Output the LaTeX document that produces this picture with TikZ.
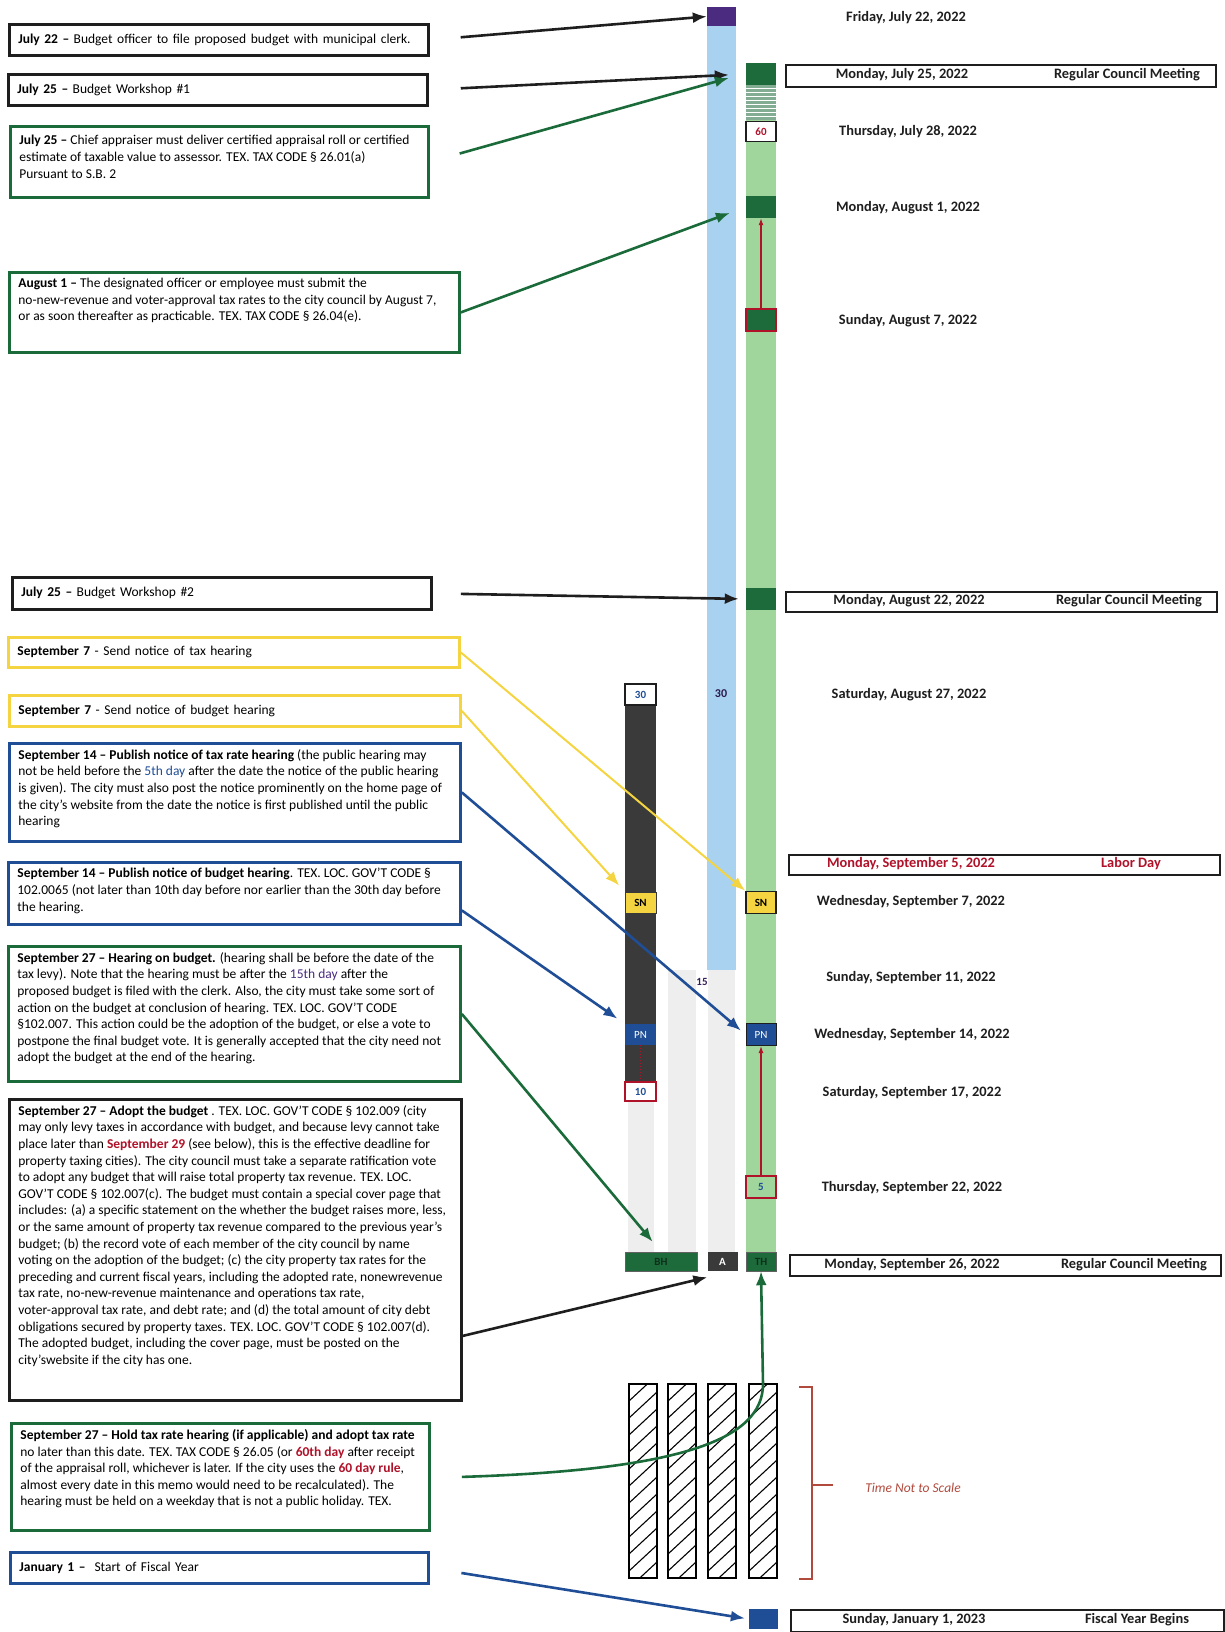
\documentclass[tikz,border=0pt]{standalone}
\usepackage{fontspec}
\setmainfont{Carlito}
\usetikzlibrary{arrows.meta,positioning,calc}
\definecolor{ink}{HTML}{1E1E1E}
\definecolor{mgreen}{HTML}{1B6B3A}
\definecolor{myellow}{HTML}{F4D440}
\definecolor{mblue}{HTML}{1F4E96}
\definecolor{mred}{HTML}{B0122A}
\definecolor{colblue}{HTML}{A9D1F0}
\definecolor{colgreen}{HTML}{A0D69B}
\definecolor{colgray}{HTML}{3A3A3A}
\definecolor{palegray}{HTML}{EEEEEE}
\definecolor{mpurple}{HTML}{4A2B80}
\definecolor{mkgreen}{HTML}{1D6A3B}
\definecolor{notscale}{HTML}{B04A3C}
\newcommand{\memofont}{\fontsize{13.5}{16.6}\selectfont}
\newcommand{\datefont}{\fontsize{14.4}{16}\selectfont\bfseries}
\newcommand{\cellfont}{\fontsize{11}{12}\selectfont\bfseries}
\newcommand{\memotxt}[3]{\parbox[c][#2][t]{#1}{#3}}
\tikzset{
  >={Latex[length=14pt,width=11pt]},
  memo/.style={draw=ink,line width=2.8pt,fill=white,anchor=north west,inner xsep=9pt,inner ysep=6pt,align=left,font=\memofont},
  gmemo/.style={memo,draw=mgreen},
  ymemo/.style={memo,draw=myellow},
  bmemo/.style={memo,draw=mblue},
  datebox/.style={draw=ink,line width=2.4pt,fill=white,anchor=north west,inner sep=0pt},
  date/.style={font=\datefont,inner sep=0pt,text=ink},
  cell/.style={minimum width=30pt,minimum height=22pt,inner sep=0pt,font=\cellfont},
  arr/.style={->,line width=2.6pt,draw=ink},
  garr/.style={arr,draw=mgreen},
  yarr/.style={arr,draw=myellow,line width=2pt},
  barr/.style={arr,draw=mblue},
  rarr/.style={-{Latex[length=7pt,width=5pt]},draw=mred,line width=1.2pt},
}
\begin{document}
\begin{tikzpicture}[x=1pt,y=-1pt]
\useasboundingbox (0,0) rectangle (1225,1632);
% timeline columns
\fill[colblue] (707,26) rectangle (736,970);
\fill[colgreen] (746,64) rectangle (776,1271);
\fill[colgray] (625,705) rectangle (656,1082);
\fill[palegray] (628,1101) rectangle (654,1252);
\fill[palegray] (668,970) rectangle (696,1252);
\fill[palegray] (708,970) rectangle (735,1252);
\fill[mkgreen!55] (746,85) rectangle (776,120);
\foreach \yy in {88,92,...,118} \draw[white,line width=0.6pt] (746,\yy) -- (776,\yy);

% left notes
\node[memo,text width=401pt,minimum height=31pt] (prop) at (8,23) {\textbf{July 22 --} Budget officer to file proposed budget with municipal clerk.};
\node[memo,text width=401pt,minimum height=31pt] (ws1) at (7,73) {\textbf{July 25 --} Budget Workshop \#1};
\node[gmemo] (appr) at (9,125) {\memotxt{400pt}{59pt}{\vspace{3pt}\textbf{July 25 --} Chief appraiser must deliver certified appraisal roll or certified\\ estimate of taxable value to assessor. TEX. TAX CODE § 26.01(a)\\ Pursuant to S.B. 2}};
\node[gmemo] (rates) at (8,271) {\memotxt{432pt}{68pt}{\textbf{August 1 --} The designated officer or employee must submit the\\ no-new-revenue and voter-approval tax rates to the city council by August 7,\\ or as soon thereafter as practicable. TEX. TAX CODE § 26.04(e).}};
\node[memo,text width=401pt,minimum height=32pt] (ws2) at (11,576) {\textbf{July 25 --} Budget Workshop \#2};
\node[ymemo,text width=433pt,minimum height=30pt] (snTax) at (7,636) {\textbf{September 7} - Send notice of tax hearing};
\node[ymemo,text width=433pt,minimum height=31pt] (snBud) at (8,694) {\textbf{September 7} - Send notice of budget hearing};
\node[bmemo] (pnTax) at (8,742) {\memotxt{433pt}{86pt}{\textbf{September 14 -- Publish notice of tax rate hearing} (the public hearing may\\ not be held before the {\color{mblue}5th day} after the date the notice of the public hearing\\ is given). The city must also post the notice prominently on the home page of\\ the city's website from the date the notice is first published until the public\\ hearing}};
\node[bmemo] (pnBud) at (7,861) {\memotxt{434pt}{50pt}{\textbf{September 14 -- Publish notice of budget hearing}. TEX. LOC. GOV'T CODE §\\ 102.0065 (not later than 10th day before nor earlier than the 30th day before\\ the hearing.}};
\node[gmemo] (hear) at (7,945) {\memotxt{434pt}{123pt}{\textbf{September 27 -- Hearing on budget.} (hearing shall be before the date of the\\ tax levy). Note that the hearing must be after the {\color{mpurple}15th day} after the\\ proposed budget is filed with the clerk. Also, the city must take some sort of\\ action on the budget at conclusion of hearing. TEX. LOC. GOV'T CODE\\ §102.007. This action could be the adoption of the budget, or else a vote to\\ postpone the final budget vote. It is generally accepted that the city need not\\ adopt the budget at the end of the hearing.}};
\node[memo] (adoptm) at (8,1098) {\memotxt{434pt}{289pt}{\textbf{September 27 -- Adopt the budget} . TEX. LOC. GOV'T CODE § 102.009 (city\\ may only levy taxes in accordance with budget, and because levy cannot take\\ place later than {\color{mred}\bfseries September 29} (see below), this is the effective deadline for\\ property taxing cities). The city council must take a separate ratification vote\\ to adopt any budget that will raise total property tax revenue. TEX. LOC.\\ GOV'T CODE § 102.007(c). The budget must contain a special cover page that\\ includes: (a) a specific statement on the whether the budget raises more, less,\\ or the same amount of property tax revenue compared to the previous year's\\ budget; (b) the record vote of each member of the city council by name\\ voting on the adoption of the budget; (c) the city property tax rates for the\\ preceding and current fiscal years, including the adopted rate, nonewrevenue\\ tax rate, no-new-revenue maintenance and operations tax rate,\\ voter-approval tax rate, and debt rate; and (d) the total amount of city debt\\ obligations secured by property taxes. TEX. LOC. GOV'T CODE § 102.007(d).\\ The adopted budget, including the cover page, must be posted on the\\ city'swebsite if the city has one.}};
\node[gmemo] (taxr) at (10,1422) {\memotxt{400pt}{95pt}{\textbf{September 27 -- Hold tax rate hearing (if applicable) and adopt tax rate}\\ no later than this date. TEX. TAX CODE § 26.05 (or {\color{mred}\bfseries 60th day} after receipt\\ of the appraisal roll, whichever is later. If the city uses the {\color{mred}\bfseries 60 day rule},\\ almost every date in this memo would need to be recalculated). The\\ hearing must be held on a weekday that is not a public holiday. TEX.}};
\node[bmemo,text width=400pt,minimum height=31pt] (fyear) at (9,1551) {\textbf{January 1 --} \ Start of Fiscal Year};

% markers on the columns
\node[cell,fill=mpurple,minimum width=29pt,minimum height=19pt] (jul22) at (721.5,16.5) {};
\node[cell,fill=mkgreen] (jul25) at (761,74) {};
\node[cell,fill=white,draw=ink,line width=1.6pt,text=mred,minimum height=20pt] (d60) at (761,131.5) {60};
\node[cell,fill=mkgreen] (aug1) at (761,207) {};
\node[cell,fill=mkgreen,draw=mred,line width=1.6pt] (aug7) at (761,320) {};
\node[cell,fill=mkgreen] (aug22) at (761,599) {};
\node[cell,fill=myellow,draw=ink,line width=1.6pt] (snT) at (761,902.5) {SN};
\node[cell,fill=mblue,draw=ink,line width=1pt,text=white,font=\fontsize{11}{12}\selectfont] (pnT) at (761,1034.5) {PN};
\node[cell,fill=colgreen,draw=mred,line width=1.6pt,text=mblue] (d5) at (761,1187) {5};
\node[cell,fill=mkgreen,draw=ink!70,minimum height=19pt,text=black!55!mkgreen] (th) at (761,1261.5) {TH};
\node[cell,fill=mblue,minimum width=29pt,minimum height=20pt] (fy) at (763.5,1619) {};
\node[cell,fill=white,draw=ink,line width=1.6pt,text=mblue,minimum width=31pt,minimum height=21pt] (d30) at (640.5,694.5) {30};
\node[cell,fill=myellow,draw=colgray,line width=1pt,minimum width=31pt,minimum height=21pt] (snB) at (640.5,902.5) {SN};
\node[cell,fill=mblue,text=white,minimum width=31pt,minimum height=21pt,font=\fontsize{11}{12}\selectfont] (pnB) at (640.5,1034.5) {PN};
\node[cell,fill=white,draw=mred,line width=1.6pt,text=mblue,minimum width=31pt,minimum height=19pt] (d10) at (640.5,1091.5) {10};
\node[cell,fill=mkgreen,draw=ink!70,minimum width=72pt,minimum height=19pt,text=black!55!mkgreen] (bh) at (661,1261.5) {BH};
\node[cell,fill=colgray,text=white,minimum width=30pt,minimum height=19pt] (adopt) at (722.5,1261.5) {A};
\node[font=\fontsize{12}{12}\selectfont\bfseries,text=mpurple!60!black] (n30) at (721,694) {30};
\node[font=\cellfont,text=mpurple!70!black] (n15) at (702,982) {15};

% dates
\node[date] (fri22) at (906,18) {Friday, July 22, 2022};
\node[datebox,minimum width=430pt,minimum height=22pt] (rcm1) at (785,64) {};
\node[date] (mon25) at (902,75) {Monday, July 25, 2022};
\node[date] (rcm1t) at (1127,75) {Regular Council Meeting};
\node[date] (thu28) at (908,132) {Thursday, July 28, 2022};
\node[date] (mon1) at (908,208) {Monday, August 1, 2022};
\node[date] (sun7) at (908,321) {Sunday, August 7, 2022};
\node[datebox,minimum width=431pt,minimum height=20pt] (rcm2) at (785,591) {};
\node[date] (mon22) at (909,601) {Monday, August 22, 2022};
\node[date] (rcm2t) at (1129,601) {Regular Council Meeting};
\node[date] (sat27) at (909,695) {Saturday, August 27, 2022};
\node[datebox,minimum width=431pt,minimum height=20pt] (labor) at (788,854) {};
\node[date,text=mred] (mon5) at (911,864) {Monday, September 5, 2022};
\node[date,text=mred] (labort) at (1131,864) {Labor Day};
\node[date] (wed7) at (911,902) {Wednesday, September 7, 2022};
\node[date] (sun11) at (911,978) {Sunday, September 11, 2022};
\node[date] (wed14) at (912,1035) {Wednesday, September 14, 2022};
\node[date] (sat17) at (912,1093) {Saturday, September 17, 2022};
\node[date] (thu22) at (912,1188) {Thursday, September 22, 2022};
\node[datebox,minimum width=431pt,minimum height=21pt] (rcm3) at (789,1254) {};
\node[date] (mon26) at (912,1265) {Monday, September 26, 2022};
\node[date] (rcm3t) at (1134,1265) {Regular Council Meeting};
\node[datebox,minimum width=433pt,minimum height=22pt] (fyb) at (790,1609) {};
\node[date] (sun1) at (914,1620) {Sunday, January 1, 2023};
\node[date] (fybt) at (1137,1620) {Fiscal Year Begins};

% time not to scale
\foreach \hx in {629,668,708,749}{
  \begin{scope}
    \clip (\hx,1384) rectangle ++(28,194);
    \foreach \k in {0,...,13} \draw[line width=1.1pt] (\hx,1384+17*\k) -- ++(28,-26);
  \end{scope}
  \draw[line width=1.4pt] (\hx,1384) rectangle ++(28,194);
}
\draw[notscale,line width=1.6pt] (799,1387) -- (812,1387) -- (812,1579) -- (799,1579);
\draw[notscale,line width=1.6pt] (812,1485) -- (833,1485);
\node[font=\fontsize{13.5}{16}\selectfont\itshape,text=notscale] (nts) at (913,1488) {Time Not to Scale};

% connectors
\draw[arr,shorten <=31pt] (prop.east) -- (jul22.west);
\draw[arr,shorten <=32pt,shorten >=17pt] (ws1.east) -- (jul25.west);
\draw[garr,shorten <=31pt] (appr.east) -- ([xshift=-17pt,yshift=-4pt]jul25.west);
\draw[garr,shorten >=17pt] (rates.east) -- (aug1.west);
\draw[arr,shorten <=28pt,shorten >=7pt] (ws2.east) -- (aug22.west);
\draw[yarr] (snTax.east) -- (snT.north west);
\draw[yarr,shorten >=8pt] (snBud.east) -- (snB.north west);
\draw[barr,shorten >=6pt] (pnTax.east) -- (pnT.west);
\draw[barr,shorten >=9pt] ([yshift=-17pt]pnBud.east) -- (pnB.north west);
\draw[garr,shorten >=13pt] (hear.east) -- (bh.north);
\draw[arr] ([yshift=-86pt]adoptm.east) -- ([yshift=-6pt]adopt.south west);
\coordinate (bend) at (763,1384);
\draw[garr] ([xshift=31pt]taxr.east) .. controls (680,1470) and (763,1440) .. (bend) -- (th.south);
\draw[barr,shorten <=32pt,shorten >=4pt] (fyear.east) -- (fy.west);
\draw[rarr] (aug7.north) -- (aug1.south);
\draw[rarr] (d5.north) -- (pnT.south);
\draw[mred,line width=1pt,dotted] (pnB.south) -- (d10.north);
\end{tikzpicture}
\end{document}
